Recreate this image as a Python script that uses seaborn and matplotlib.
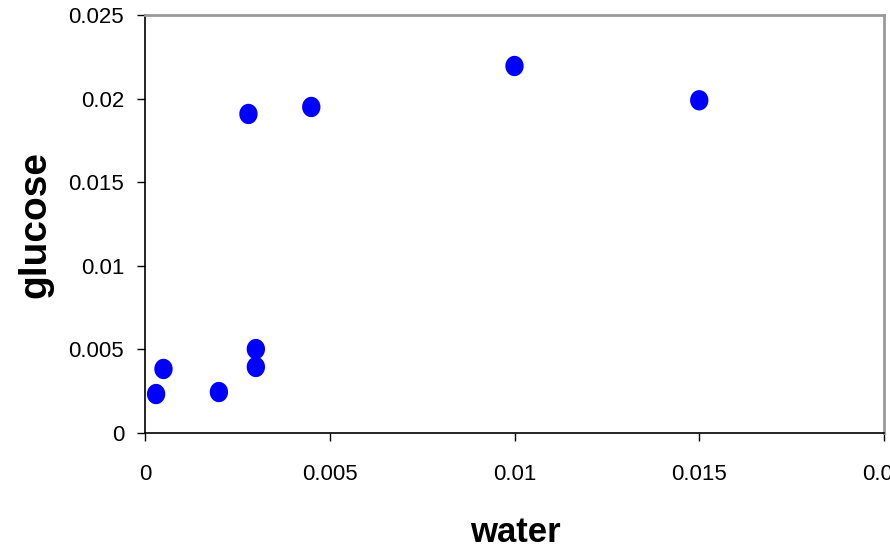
import numpy as np
import pandas as pd
import matplotlib
matplotlib.use('Agg')
import matplotlib.pyplot as plt
import seaborn as sns

# data
water = [0.0003, 0.0005, 0.002, 0.003, 0.003, 0.0028, 0.0045, 0.010, 0.015]
glucose = [0.00233, 0.00383, 0.00245, 0.00502, 0.00395, 0.01908, 0.0195, 0.02195, 0.0199]
x_ticks = [0, 0.005, 0.01, 0.015, 0.02]
y_ticks = [0, 0.005, 0.01, 0.015, 0.02, 0.025]
x_tick_labels = ['0', '0.005', '0.01', '0.015', '0.02']
y_tick_labels = ['0', '0.005', '0.01', '0.015', '0.02', '0.025']

df = pd.DataFrame({'water': water, 'glucose': glucose})

sns.set_style('white')
plt.rcParams['font.family'] = ['Liberation Sans', 'DejaVu Sans']
plt.rcParams['text.color'] = 'black'
plt.rcParams['axes.labelcolor'] = 'black'
plt.rcParams['xtick.color'] = 'black'
plt.rcParams['ytick.color'] = 'black'

fig = plt.figure(figsize=(8.9, 5.53), dpi=100)
ax = fig.add_axes([145 / 890, 1 - 433 / 553, 739 / 890, 418 / 553])

# slightly taller-than-wide dots, like the original
t = np.linspace(0, 2 * np.pi, 60)
ellipse = np.column_stack([0.9 * np.cos(t), np.sin(t)])

sns.scatterplot(data=df, x='water', y='glucose', ax=ax, marker=ellipse,
                s=215, color='#0000ff', edgecolor='none', linewidth=0)

ax.set_xlim(0, 0.02)
ax.set_ylim(0, 0.025)
ax.set_xticks(x_ticks)
ax.set_yticks(y_ticks)
ax.set_xticklabels(x_tick_labels)
ax.set_yticklabels(y_tick_labels)
ax.tick_params(axis='x', direction='out', length=6, width=1, pad=16, labelsize=16)
ax.tick_params(axis='y', direction='out', length=6, width=1, pad=9, labelsize=16)
ax.tick_params(bottom=True, left=True)

for side in ['left', 'bottom']:
    ax.spines[side].set_color('black')
    ax.spines[side].set_linewidth(1.2)
for side in ['top', 'right']:
    ax.spines[side].set_color('#999999')
    ax.spines[side].set_linewidth(2)

ax.set_xlabel('water', fontsize=25, fontweight='bold')
ax.set_ylabel('glucose', fontsize=28, fontweight='bold')
# label centres in axes fractions (water ~ (515, 533) px, glucose ~ (35, 224) px)
ax.xaxis.set_label_coords(0.5007, -0.239)
ax.yaxis.set_label_coords(-0.149, 0.5)
ax.xaxis.label.set_va('center')
ax.yaxis.label.set_va('center')

fig.savefig('out.png', dpi=100)
